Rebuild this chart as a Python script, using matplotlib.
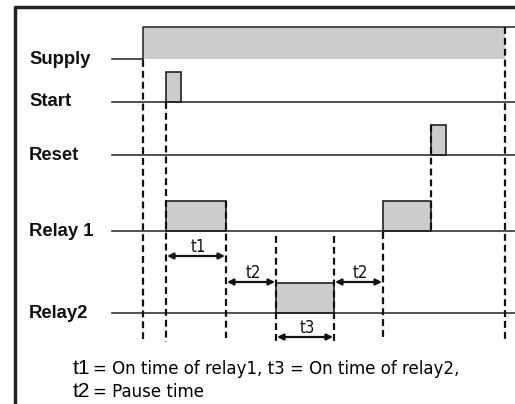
import matplotlib.pyplot as plt
from matplotlib.patches import Rectangle

# signal names and their baseline rows (drawing units, y grows downward)
signals = ['Supply', 'Start', 'Reset', 'Relay 1', 'Relay2']
baselines = [59, 102, 155, 231, 313]

# time events along the x axis
line_start = 112
supply_on, supply_off = 143, 505
start_pulses = [(166, 181)]
reset_pulses = [(431, 446)]
relay1_pulses = [(166, 226), (383, 431)]
relay2_pulses = [(276, 334)]

# dashed marker lines: (time, from y, to y)
markers = [(143, 60, 342), (166, 102, 342), (226, 201, 338), (276, 236, 342),
           (334, 236, 342), (383, 232, 340), (431, 125, 232), (505, 27, 342)]

# interval arrows: (label, t0, t1, y)
intervals = [('t1', 166, 226, 256), ('t2', 226, 276, 282),
             ('t2', 334, 383, 282), ('t3', 276, 334, 337)]

W, H = 515, 404
fig = plt.figure(figsize=(W / 100, H / 100), dpi=100)
ax = fig.add_axes([0, 0, 1, 1])
ax.set_xlim(0, W)
ax.set_ylim(H, 0)
ax.axis('off')

gray = '#cccccc'
pulse_h = 30

# frame
ax.plot([15, 15, W], [H, 7, 7], color='#222222', lw=2.5, solid_capstyle='butt')

# labels
for name, y in zip(signals, baselines):
    ax.text(29, y, name, fontsize=13.3, fontweight='bold', family='Liberation Sans',
            va='center', ha='left', color='#111111')

# supply
ax.plot([line_start, supply_on], [baselines[0]] * 2, color='#222222', lw=1.1)
ax.add_patch(Rectangle((supply_on, 27), supply_off - supply_on, baselines[0] - 27,
                       facecolor=gray, edgecolor='none'))
ax.plot([supply_on, supply_on, W], [baselines[0], 27, 27], color='#222222', lw=1.1)

# other signals
for y, pulses in zip(baselines[1:], [start_pulses, reset_pulses, relay1_pulses, relay2_pulses]):
    ax.plot([line_start, W], [y, y], color='#222222', lw=1.1, zorder=3)
    for a, b in pulses:
        ax.add_patch(Rectangle((a, y - pulse_h), b - a, pulse_h, facecolor=gray,
                               edgecolor='#222222', lw=1.2, zorder=2))

# dashed markers
for x, y0, y1 in markers:
    ax.plot([x, x], [y0, y1], color='#111111', lw=1.6, linestyle=(0, (3.1, 1.8)), zorder=4)

# interval arrows
for label, a, b, y in intervals:
    ax.annotate('', xy=(a + 1, y), xytext=(b - 1, y),
                arrowprops=dict(arrowstyle='<|-|>', color='#111111', lw=1.6,
                                mutation_scale=9, shrinkA=0, shrinkB=0))
    ax.text((a + b) / 2 + 2, y - 4, label, fontsize=12, fontstretch='condensed',
            family='Liberation Sans Narrow', ha='center', va='baseline', color='#111111')

# footnote
ax.text(73, 374, 't1', fontsize=15, family='Liberation Sans', va='baseline')
ax.text(93, 374, '= On time of relay1, t3 = On time of relay2,', fontsize=12,
        family='DejaVu Sans', va='baseline')
ax.text(73, 397, 't2', fontsize=15, family='Liberation Sans', va='baseline')
ax.text(93, 397, '= Pause time', fontsize=12, family='DejaVu Sans', va='baseline')

fig.savefig('out.png', dpi=100)
